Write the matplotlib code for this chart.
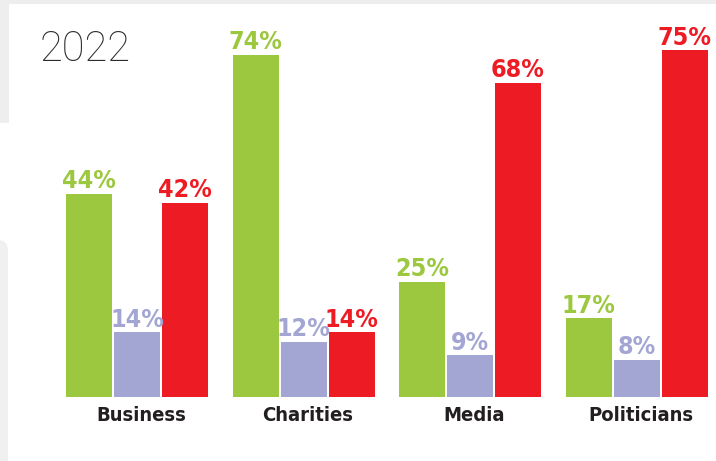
import matplotlib
matplotlib.use("Agg")
import matplotlib.pyplot as plt
from matplotlib.patches import Rectangle, FancyBboxPatch
from matplotlib import font_manager as fm

categories = ["Business", "Charities", "Media", "Politicians"]
green_vals = [44, 74, 25, 17]
purple_vals = [14, 12, 9, 8]
red_vals = [42, 14, 68, 75]
title = "2022"

GREEN = "#9bc83e"
PURPLE = "#a3a6d3"
RED = "#ed1c24"

W, H = 716, 461
fig = plt.figure(figsize=(W / 100, H / 100), dpi=100)
fig.patch.set_facecolor("white")

deco = fig.add_axes([0, 0, 1, 1])
deco.set_xlim(0, W)
deco.set_ylim(H, 0)
deco.axis("off")
deco.add_patch(Rectangle((0, 0), W, 4, color="#ededed", lw=0))
deco.add_patch(Rectangle((0, 0), 9, 123, color="#eeeeee", lw=0))
deco.add_patch(FancyBboxPatch((-20, 240), 28, 240, boxstyle="round,pad=0,rounding_size=10",
                              color="#f0f0f0", lw=0))

ax = fig.add_axes([0, 0, 1, 1])
ax.patch.set_alpha(0)
px_per_unit = 166.5
x0_px = 137.0
ax.set_xlim(-x0_px / px_per_unit, (W - x0_px) / px_per_unit)
px_per_pct = 4.62
base_px = 64.0
ax.set_ylim(-base_px / px_per_pct, (H - base_px) / px_per_pct)
ax.axis("off")

bw = 46 / px_per_unit
off = 48 / px_per_unit
xs = list(range(len(categories)))

cond = fm.FontProperties(family="DejaVu Sans", stretch="condensed", weight="bold")
for vals, color, dx in [(green_vals, GREEN, -off), (purple_vals, PURPLE, 0), (red_vals, RED, off)]:
    pos = [x + dx for x in xs]
    ax.bar(pos, vals, width=bw, color=color, lw=0)
    for p, v in zip(pos, vals):
        fp = cond.copy()
        fp.set_size(18)
        ax.text(p, v + 0.15, f"{v}%", ha="center", va="bottom", color=color,
                fontproperties=fp)

for x, c in zip(xs, categories):
    fp = cond.copy()
    fp.set_size(14.5)
    ax.text(x + 4 / px_per_unit, -2.0, c, ha="center", va="top", color="#231f20",
            fontproperties=fp)

fig.text(40 / W, 1 - 61 / H, title, ha="left", va="baseline", fontsize=30,
         color="#2b2b2b", family=["Roboto", "DejaVu Sans"], fontweight="light")

fig.savefig("out.png", dpi=100)
